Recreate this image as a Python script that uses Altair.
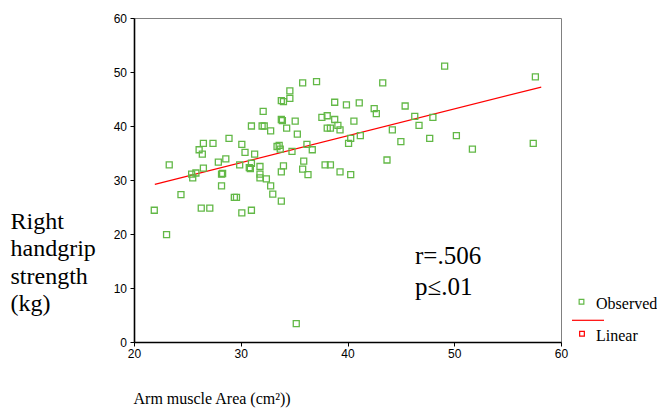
import altair as alt
import pandas as pd

arm_area = [23.3, 21.9, 23.05, 24.4, 26.5, 27.4, 28.9, 26.1, 26.4, 27.9,
            28.6, 26.5, 25.4, 25.8, 25.5, 28.2, 28.3, 28.2, 26.3, 27.1,
            29.4, 29.6, 30.1, 29.9, 30.1, 35.8, 37.1, 34.6, 34.6, 33.8,
            34.0, 32.1, 38.8, 33.8, 33.9, 35.1, 31.0, 32.0, 32.2, 32.8,
            34.3, 35.3, 37.6, 38.1, 38.8, 38.1, 38.4, 33.4, 33.6, 33.7,
            34.8, 36.2, 36.7, 30.4, 31.3, 31.0, 30.8, 30.9, 31.8, 34.0,
            33.8, 35.9, 35.8, 36.3, 37.9, 38.4, 31.8, 31.8, 32.4, 32.8,
            33.0, 33.8, 31.0, 43.3, 39.9, 41.1, 42.5, 42.7, 45.4, 39.1,
            39.3, 40.6, 46.3, 46.7, 48.0, 44.2, 40.3, 40.1, 41.2, 45.0,
            47.7, 43.7, 39.3, 40.3, 49.1, 57.6, 50.2, 51.7, 57.4, 35.2]
grip = [32.8, 24.4, 19.9, 27.3, 36.8, 36.8, 37.7, 35.6, 34.8, 33.3,
        33.9, 32.2, 31.1, 31.3, 30.4, 31.1, 31.2, 28.9, 24.8, 24.8,
        26.8, 26.8, 36.6, 32.8, 23.9, 48.0, 48.2, 46.5, 45.1, 44.7,
        44.5, 42.7, 44.4, 41.2, 41.0, 40.9, 40.0, 40.0, 40.0, 39.1,
        39.6, 38.5, 41.6, 41.9, 41.2, 39.6, 39.6, 36.2, 36.4, 35.7,
        35.3, 36.6, 35.6, 35.1, 34.8, 33.1, 32.3, 32.1, 32.5, 32.6,
        31.5, 33.5, 32.0, 31.0, 32.8, 32.8, 31.1, 30.4, 30.2, 28.9,
        27.4, 26.1, 24.4, 48.0, 43.9, 44.3, 43.2, 42.3, 43.7, 40.1,
        39.3, 40.9, 41.8, 40.1, 41.6, 39.3, 37.7, 36.8, 38.2, 37.1,
        37.7, 33.7, 31.5, 31.0, 51.1, 49.1, 38.2, 35.7, 36.8, 3.4]

# Linear fit line end points
linear_x = [21.95, 58.15]
linear_y = [29.2, 47.2]

x_ticks = [20, 30, 40, 50, 60]
y_ticks = [0, 10, 20, 30, 40, 50, 60]

y_title = ["Right", "handgrip", "strength", "(kg)"]
x_title = "Arm muscle Area (cm²))"
legend_labels = ["Observed", "Linear"]
stats_text = ["r=.506", "p≤.01"]

GREEN = "#62b846"
RED = "#ff0000"
SERIF = "Liberation Serif"
SANS = "Liberation Sans"

obs = pd.DataFrame({"x": arm_area, "y": grip})
lin = pd.DataFrame({"x": linear_x, "y": linear_y})

xscale = alt.Scale(domain=[20, 60], nice=False, zero=False)
yscale = alt.Scale(domain=[0, 60], nice=False, zero=False)

xaxis = alt.Axis(values=x_ticks, title=x_title, titleFont=SERIF, titleFontSize=16,
                 titleFontWeight="normal", titleColor="black", titleAlign="left",
                 titleBaseline="alphabetic", titleX=-1, titleY=61, labelPadding=2,
                 labelFlush=False)
yaxis = alt.Axis(values=y_ticks, title=y_title, titleFont=SERIF, titleFontSize=24,
                 titleFontWeight="normal", titleColor="black", titleAngle=0,
                 titleAlign="left", titleBaseline="alphabetic", titleX=-124,
                 titleY=210, titleLineHeight=27.5, labelPadding=3.5, labelFlush=False)

points = alt.Chart(obs).mark_point(
    shape="square", size=36, filled=False, color=GREEN, strokeWidth=1.3, opacity=1
).encode(
    x=alt.X("x:Q", scale=xscale, axis=xaxis),
    y=alt.Y("y:Q", scale=yscale, axis=yaxis),
)

line = alt.Chart(lin).mark_line(color=RED, strokeWidth=1.2).encode(
    x=alt.X("x:Q", scale=xscale),
    y=alt.Y("y:Q", scale=yscale),
)

one = pd.DataFrame({"k": [0]})


def label(text, px, py, size, font=SERIF):
    return alt.Chart(one).mark_text(
        text=text, font=font, fontSize=size, align="left", baseline="alphabetic",
        color="black"
    ).encode(x=alt.value(px), y=alt.value(py))


stat1 = label(stats_text[0], 281, 246, 25)
stat2 = label(stats_text[1], 281, 277, 25)

leg_obs_sym = alt.Chart(one).mark_point(
    shape="square", size=22, filled=False, color=GREEN, strokeWidth=1.2, opacity=1
).encode(x=alt.value(447.5), y=alt.value(283.7))
leg_obs_txt = label(legend_labels[0], 462, 291, 16)
leg_line = alt.Chart(one).mark_rule(color=RED, strokeWidth=1.2).encode(
    x=alt.value(438), x2=alt.value(470), y=alt.value(302.3))
leg_lin_sym = alt.Chart(one).mark_point(
    shape="square", size=22, filled=False, color=RED, strokeWidth=1.2, opacity=1
).encode(x=alt.value(448), y=alt.value(315.7))
leg_lin_txt = label(legend_labels[1], 462, 322.7, 16)

chart = alt.layer(
    line, points, stat1, stat2, leg_obs_sym, leg_obs_txt, leg_line, leg_lin_sym, leg_lin_txt
).properties(
    width=427, height=324,
    autosize=alt.AutoSizeParams(type="none"),
    padding={"left": 134, "top": 18, "right": 96, "bottom": 66},
    background="white",
).configure_view(
    stroke="#808080", strokeWidth=1
).configure_axis(
    grid=False, domainColor="black", domainWidth=1.6, tickColor="black", tickSize=4,
    tickWidth=1, labelFont=SANS, labelFontSize=12, labelColor="black"
)

chart.save("out.html", embed_options={"renderer": "svg", "actions": False})
